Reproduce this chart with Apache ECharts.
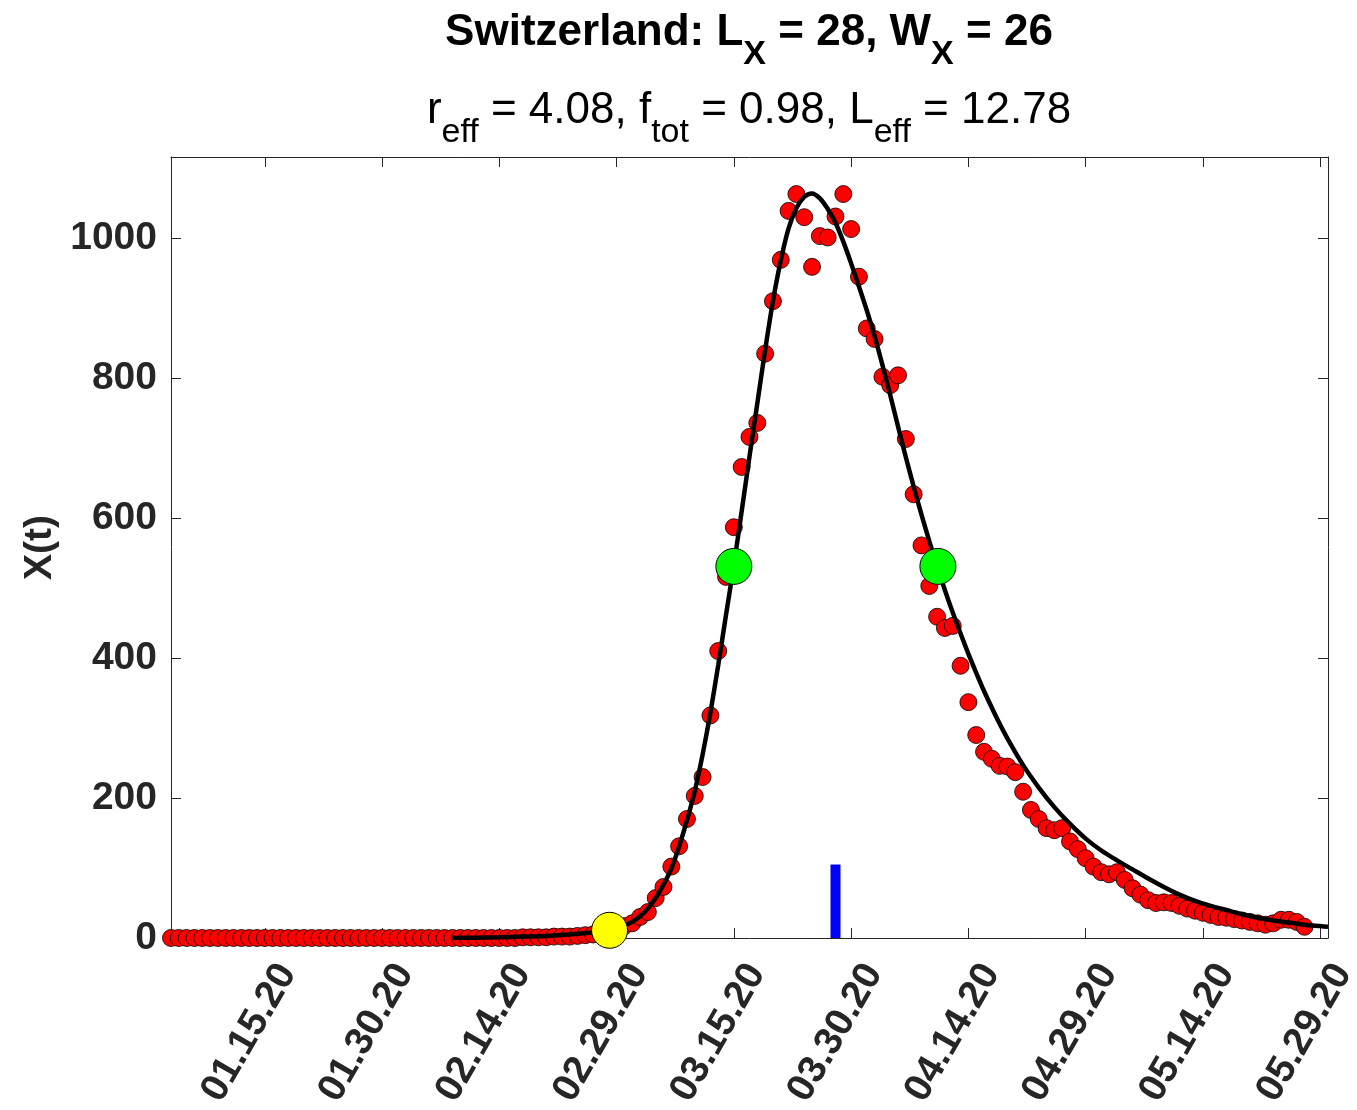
<!DOCTYPE html>
<html>
<head>
<meta charset="utf-8">
<script src="https://cdn.jsdelivr.net/npm/echarts@6/dist/echarts.min.js"></script>
<style>
html,body{margin:0;padding:0;background:#ffffff;}
#chart{width:1357px;height:1110px;}
</style>
</head>
<body>
<div id="chart"></div>
<script>
// ---- data (x values are day-of-year 2020, Jan 1 = 1) ----
const firstObsDay = 3; // 01.03.20
const observed = [
  0,0,0,0,0,0,0,0,0,0, 0,0,0,0,0,0,0,0,0,0,
  0,0,0,0,0,0,0,0,0,0, 0,0,0,0,0,0,0,0,0,0,
  0,0,0,0,
  0,1,1,1,1,2,2,2,3,4,5,7,9,13,17,
  21,30,37,57,73,102,131,170,203,230,318,410,516,587,673,716,736,835,910,969,
  1039,1063,1030,959,1003,1001,1031,1063,1013,945,871,856,802,790,804,713,634,561,503,459,
  443,446,389,337,290,266,256,246,245,237,209,183,170,157,154,157,138,127,114,102,
  94,91,94,83,71,62,54,50,51,50,46,42,39,36,33,30,29,27,25,23,
  21,19,21,26,26,23,16
];
const fitDays = [39,42,45,48,51,54,56,58,59,60,61,62,63,64,65,66,67,68,69,70,71,72,73,74,75,76,77,78,79,80,
  81,82,83,84,85,86,87,88,89,90,91,92,93,94,95,96,97,98,99,100,101,102,103,104,105,106,107,108,109,110,
  112,114,116,118,120,122,124,126,128,130,132,134,136,138,140,142,144,146,148,150,151];
const fitValues = [0,0.5,1,2,3,5,7,9,11,14,18,23,31,42,57,76,99,131,168,210,262,322,390,462,533,610,688,764,840,910,
  968,1014,1043,1059,1064,1057,1042,1022,995,964,931,897,860,819,776,731,687,645,605,567,531,497,465,435,406,379,353,329,306,285,
  247,215,187,163,142,125,111,98,85,73,62,53,46,40,34,29,25,22,19,17,16];
const halfMaxDays = [75, 101.1];
const halfMaxValues = [531, 531];
const onsetDays = [59.1];
const onsetValues = [11];
const markerDays = [88, 88];
const markerValues = [0, 105];
const xTickDays = [15, 30, 45, 60, 75, 90, 105, 120, 135, 150];
const xTickLabels = ['01.15.20','01.30.20','02.14.20','02.29.20','03.15.20','03.30.20','04.14.20','04.29.20','05.14.20','05.29.20'];
const yTickValues = [0, 200, 400, 600, 800, 1000];
const yTickLabels = ['0', '200', '400', '600', '800', '1000'];
const titleLine1 = '{b|Switzerland: L}{bs|X}{b| = 28, W}{bs|X}{b| = 26}';
const titleLine2 = '{n|r}{ns|eff}{n| = 4.08, f}{ns|tot}{n| = 0.98, L}{ns|eff}{n| = 12.78}';
const yName = 'X(t)';

// ---- chart ----
const FONT = '"Liberation Sans", Arial, Helvetica, sans-serif';
const AX = '#262626';
const chart = echarts.init(document.getElementById('chart'), null, {renderer: 'canvas'});

const obsData = observed.map((v, i) => [firstObsDay + i, v]);
const fitData = fitDays.map((d, i) => [d, fitValues[i]]);
const halfData = halfMaxDays.map((d, i) => [d, halfMaxValues[i]]);
const onsetData = onsetDays.map((d, i) => [d, onsetValues[i]]);
const markerData = markerDays.map((d, i) => [d, markerValues[i]]);

const axisLineStyle = {color: AX, width: 1};
function xAx(pos, showLabels) {
  return {
    type: 'value', position: pos, min: 3, max: 151,
    axisLine: {show: true, onZero: false, lineStyle: axisLineStyle},
    axisTick: {show: true, inside: true, length: 10, customValues: xTickDays, lineStyle: axisLineStyle},
    axisLabel: showLabels ? {
      show: true, customValues: xTickDays,
      formatter: v => xTickLabels[xTickDays.indexOf(v)],
      rotate: 60, margin: 16, verticalAlign: 'top', lineHeight: 52,
      fontFamily: FONT, fontWeight: 'bold', fontSize: 39, color: AX
    } : {show: false},
    splitLine: {show: false}
  };
}
function yAx(pos, showLabels) {
  return {
    type: 'value', position: pos, min: 0, max: 1116,
    axisLine: {show: true, onZero: false, lineStyle: axisLineStyle},
    axisTick: {show: true, inside: true, length: 10, customValues: yTickValues, lineStyle: axisLineStyle},
    axisLabel: showLabels ? {
      show: true, customValues: yTickValues, margin: 14,
      formatter: v => yTickLabels[yTickValues.indexOf(v)],
      fontFamily: FONT, fontWeight: 'bold', fontSize: 39, color: AX
    } : {show: false},
    splitLine: {show: false},
    name: showLabels ? yName : '',
    nameLocation: 'middle', nameRotate: 90, nameGap: 111,
    nameTextStyle: {fontFamily: FONT, fontWeight: 'bold', fontSize: 39, color: AX}
  };
}

const option = {
  animation: false,
  backgroundColor: '#ffffff',
  title: [
    {
      text: titleLine1, left: 749, top: 11, textAlign: 'center', padding: 0,
      textStyle: {
        fontFamily: FONT,
        rich: {
          b: {fontFamily: FONT, fontWeight: 'bold', fontSize: 44, lineHeight: 50, color: '#000', verticalAlign: 'top'},
          bs: {fontFamily: FONT, fontWeight: 'bold', fontSize: 34, lineHeight: 34, color: '#000', verticalAlign: 'top', padding: [27, 0, 0, 0]}
        }
      }
    },
    {
      text: titleLine2, left: 749, top: 89, textAlign: 'center', padding: 0,
      textStyle: {
        fontFamily: FONT,
        rich: {
          n: {fontFamily: FONT, fontWeight: 'normal', fontSize: 44, lineHeight: 50, color: '#000', verticalAlign: 'top'},
          ns: {fontFamily: FONT, fontWeight: 'normal', fontSize: 34, lineHeight: 34, color: '#000', verticalAlign: 'top', padding: [27, 0, 0, 0]}
        }
      }
    }
  ],
  grid: {left: 171, right: 29, top: 157, bottom: 172, outerBoundsMode: 'none', containLabel: false},
  xAxis: [xAx('bottom', true), xAx('top', false)],
  yAxis: [yAx('left', true), yAx('right', false)],
  series: [
    {
      type: 'scatter', data: obsData, symbol: 'circle', symbolSize: 17, z: 2,
      itemStyle: {color: '#ff0000', borderColor: '#000000', borderWidth: 0.8, opacity: 1}
    },
    {
      type: 'line', data: fitData, showSymbol: false, smooth: 0.3, z: 3,
      lineStyle: {color: '#000000', width: 4.5}
    },
    {
      type: 'line', data: markerData, showSymbol: false, z: 4,
      lineStyle: {color: '#0000ff', width: 10, cap: 'butt'}
    },
    {
      type: 'scatter', data: halfData, symbol: 'circle', symbolSize: 36, z: 5,
      itemStyle: {color: '#00ff00', borderColor: '#000000', borderWidth: 1, opacity: 1}
    },
    {
      type: 'scatter', data: onsetData, symbol: 'circle', symbolSize: 36, z: 5,
      itemStyle: {color: '#ffff00', borderColor: '#000000', borderWidth: 1, opacity: 1}
    }
  ]
};
chart.setOption(option);
</script>
</body>
</html>
